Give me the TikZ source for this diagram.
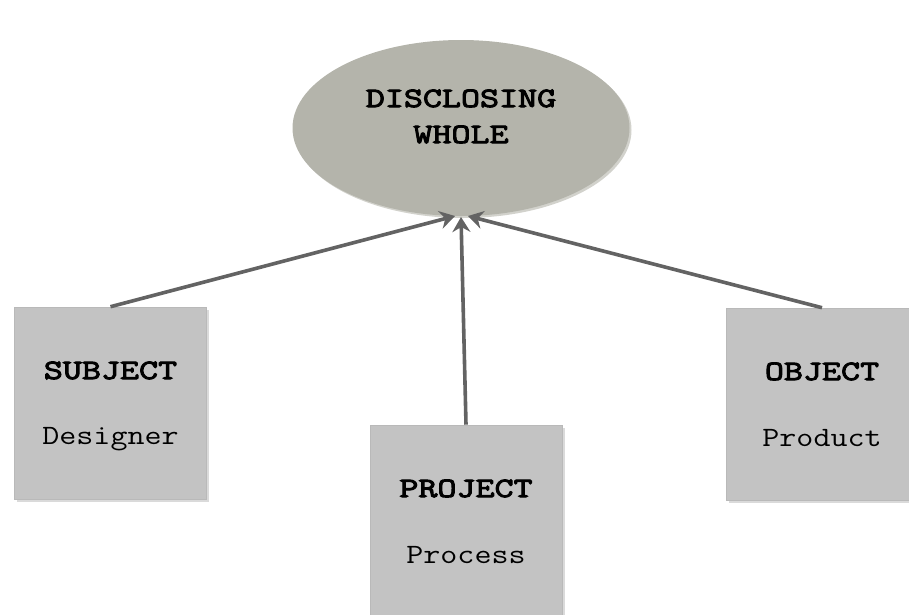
\documentclass[tikz,border=0pt]{standalone}
\usepackage{fontspec}
\usetikzlibrary{shapes.geometric,arrows.meta,shadows}
% typewriter faces for the labels
\newfontfamily\monoreg[FakeStretch=1.18]{Latin Modern Mono}
\newfontfamily\monobold[FakeStretch=1.32,FakeBold=3.6]{Latin Modern Mono}
\definecolor{wholefill}{HTML}{B4B4AB}
\definecolor{wholeshade}{HTML}{D2D2CC}
\definecolor{cardfill}{HTML}{C3C3C3}
\definecolor{cardedge}{HTML}{B9B9B9}
\definecolor{cardshade}{HTML}{DADADA}
\definecolor{linkcol}{HTML}{636363}
\begin{document}
\begin{tikzpicture}[x=1pt,y=-1pt,
  whole/.style={ellipse, fill=wholefill, minimum width=337pt, minimum height=176pt,
    inner sep=0pt, drop shadow={shadow xshift=2pt,shadow yshift=-2pt,fill=wholeshade,opacity=1}},
  card/.style={rectangle, fill=cardfill, draw=cardedge, line width=0.6pt,
    minimum width=192pt, minimum height=192pt, inner sep=0pt,
    drop shadow={shadow xshift=2.5pt,shadow yshift=-2.5pt,fill=cardshade,opacity=1}},
  headtext/.style={anchor=base, inner sep=0pt, font=\monobold\fontsize{28}{30}\selectfont},
  subtext/.style={anchor=base, inner sep=0pt, font=\monoreg\fontsize{28}{30}\selectfont},
  link/.style={draw=linkcol, line width=3.6pt, -{Stealth[length=15pt,width=18pt,inset=5pt]}}
]
\useasboundingbox (0,0) rectangle (909,614);

% the central ellipse
\node[whole] (dw) at (461,128) {};
\node[headtext] (dwa) at (461,107) {DISCLOSING};
\node[headtext] (dwb) at (461,143) {WHOLE};

% the three cards
\node[card] (sub) at (110.5,403) {};
\node[headtext] (subt) at (110.5,379) {SUBJECT};
\node[subtext] (subs) at (110.5,444) {Designer};

\node[card] (prj) at (466,521) {};
\node[headtext] (prjt) at (466,497) {PROJECT};
\node[subtext] (prjs) at (466,563) {Process};

\node[card] (obj) at (822,404) {};
\node[headtext] (objt) at (822,380) {OBJECT};
\node[subtext] (objs) at (822,446) {Product};

% arrow ends under the ellipse
\coordinate (tipL) at (455,216);
\coordinate (tipM) at (461,217);
\coordinate (tipR) at (468,216);

\draw[link] (sub.north) -- (tipL);
\draw[link] (obj.north) -- (tipR);
\draw[link] (prj.north) -- (tipM);
\end{tikzpicture}
\end{document}
